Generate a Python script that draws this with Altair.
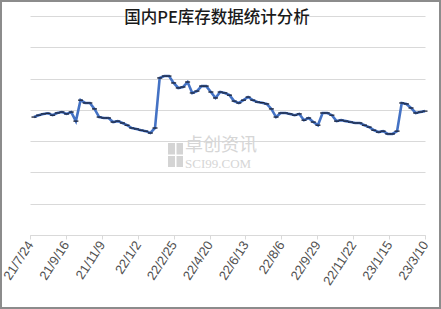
import altair as alt
import pandas as pd

title_text = "国内PE库存数据统计分析"
wm_cn = "卓创资讯"
wm_en = "SCI99.COM"

start_date = "2021-07-30"
inventory = [
    37.7, 38.3, 38.7, 38.9, 38.3, 39.0, 39.3, 38.7, 39.3, 36.4,
    43.1, 42.2, 42.2, 40.3, 37.7, 37.4, 37.4, 36.1, 36.4, 35.8,
    35.1, 34.2, 33.9, 33.5, 33.2, 32.6, 34.2, 50.2, 50.8, 50.8,
    48.6, 47.0, 47.3, 48.9, 45.4, 46.0, 47.6, 47.6, 45.7, 43.8,
    45.7, 45.4, 44.7, 42.8, 42.2, 43.1, 44.1, 43.1, 42.5, 42.3,
    41.9, 40.3, 37.7, 39.0, 39.0, 38.7, 38.3, 38.7, 36.7, 37.4,
    36.1, 35.1, 39.0, 39.0, 38.3, 36.4, 36.7, 36.4, 36.1, 35.8,
    35.8, 35.1, 34.5, 33.5, 32.9, 33.2, 32.3, 32.3, 33.2, 42.2,
    41.9, 40.6, 39.0, 39.3, 39.6,
]
tick_dates = [
    (2021, 7, 24), (2021, 9, 16), (2021, 11, 9), (2022, 1, 2),
    (2022, 2, 25), (2022, 4, 20), (2022, 6, 13), (2022, 8, 6),
    (2022, 9, 29), (2022, 11, 22), (2023, 1, 15), (2023, 3, 10),
]
y_grid = [0, 10, 20, 30, 40, 50, 60, 70]

dates = pd.date_range(start_date, periods=len(inventory), freq="7D").strftime("%Y-%m-%d")
df = pd.DataFrame({"date": dates, "value": inventory})

def dt(t):
    return alt.DateTime(year=t[0], month=t[1], date=t[2], utc=True)

x_enc = alt.X(
    "date:T",
    scale=alt.Scale(type="utc", domain=[dt(tick_dates[0]), dt(tick_dates[-1])]),
    axis=alt.Axis(
        values=[dt(t) for t in tick_dates],
        tickCount=50,
        labelExpr="utcFormat(datum.value, '%y/%-m/%-d')",
        labelAngle=-57,
        labelAlign="right",
        labelBaseline="middle",
        labelPadding=3,
        labelFont="Liberation Sans",
        labelFontSize=13,
        labelColor="#505050",
        tickColor="#d9d9d9",
        tickSize=4,
        domainColor="#d9d9d9",
        grid=False,
        title=None,
        labelOverlap=False,
    ),
)
y_enc = alt.Y(
    "value:Q",
    scale=alt.Scale(domain=[0, 70], nice=False, zero=True),
    axis=alt.Axis(
        values=y_grid, tickCount=50, labels=False, ticks=False, domain=False,
        grid=True, gridColor="#d9d9d9", gridWidth=1, title=None,
    ),
)

base = alt.Chart(df)
line = base.mark_line(color="#4472C4", strokeWidth=2.6).encode(x=x_enc, y=y_enc)
pts = base.mark_point(shape="stroke", size=25, color="#1a2238", strokeWidth=1.3, opacity=1).encode(
    x="date:T", y="value:Q"
)

one = pd.DataFrame({"k": [0]})
deco = alt.Chart(one)
title_bg = deco.mark_rect(color="white").encode(
    x=alt.value(97), x2=alt.value(277), y=alt.value(-6), y2=alt.value(12)
)
title = deco.mark_text(
    text=title_text, font="Noto Sans CJK SC", fontSize=16.5, color="#1a1a1a",
    align="center", baseline="middle", fontWeight=500,
).encode(x=alt.value(187), y=alt.value(2))
wm1 = deco.mark_text(
    text=wm_cn, font="Noto Sans CJK SC", fontSize=18, color="#d6d6d6",
    align="left", baseline="middle",
).encode(x=alt.value(155), y=alt.value(130))
wm2 = deco.mark_text(
    text=wm_en, font="Liberation Serif", fontSize=13, color="#d6d6d6",
    align="left", baseline="middle",
).encode(x=alt.value(155), y=alt.value(147.5))
wm_logo = deco.mark_rect(color="#d4d4d4").encode(
    x=alt.value(138), x2=alt.value(153), y=alt.value(127), y2=alt.value(151)
)
wm_logo_cut_v = deco.mark_rect(color="white").encode(
    x=alt.value(145), x2=alt.value(146.5), y=alt.value(127), y2=alt.value(151)
)
wm_logo_cut_h = deco.mark_rect(color="white").encode(
    x=alt.value(138), x2=alt.value(153), y=alt.value(138.5), y2=alt.value(140)
)
border = deco.mark_rect(fillOpacity=0, stroke="#8c8c8c", strokeWidth=2).encode(
    x=alt.value(-29), x2=alt.value(410), y=alt.value(-15), y2=alt.value(292)
)

chart = alt.layer(
    wm_logo, wm_logo_cut_v, wm_logo_cut_h, wm1, wm2, line, pts, title_bg, title, border
).properties(
    width=395, height=219,
    autosize=alt.AutoSizeParams(type="none"),
    padding={"left": 30, "top": 16, "right": 16, "bottom": 74},
    background="white",
).configure_view(stroke=None)

chart.save("out.html", embed_options={"renderer": "svg", "actions": False})
